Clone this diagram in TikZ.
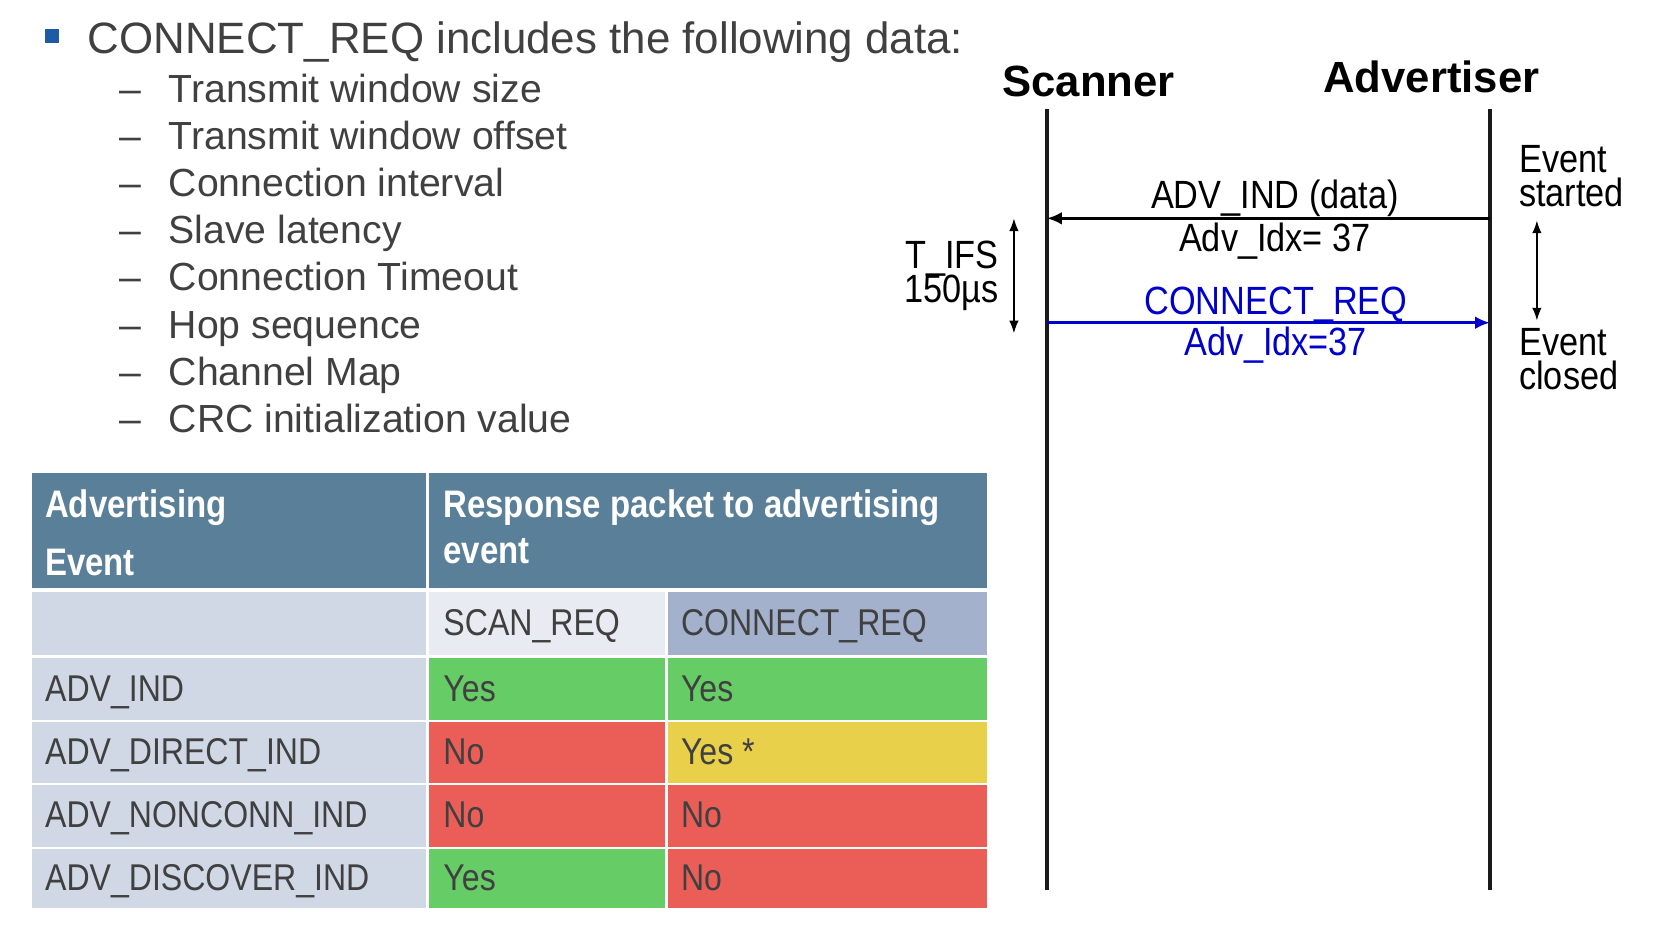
\documentclass[tikz,border=0pt]{standalone}
\usepackage{fontspec}
\setmainfont{Liberation Sans}
\newfontfamily\narrowfont[FakeStretch=0.87]{Liberation Sans}
\newfontfamily\tabfont[FakeStretch=0.86]{Liberation Sans}
\usetikzlibrary{arrows.meta}
\definecolor{txtgray}{HTML}{404040}
\definecolor{hdrblue}{HTML}{5A7F99}
\definecolor{lav}{HTML}{D0D8E6}
\definecolor{lavlight}{HTML}{E8EBF2}
\definecolor{lavdark}{HTML}{A3B1CC}
\definecolor{cgreen}{HTML}{66CC66}
\definecolor{cred}{HTML}{EB5E58}
\definecolor{cyellow}{HTML}{E8D04A}
\definecolor{bulletblue}{HTML}{1F5AA6}
\definecolor{msgblue}{HTML}{0000CC}
\definecolor{lifeline}{HTML}{1A1A1A}
\begin{document}
\begin{tikzpicture}[x=0.5pt,y=-0.5pt,
  txt/.style={anchor=base west, inner sep=0pt, text=txtgray},
  mainitem/.style={txt, font=\fontsize{20.6}{24}\selectfont},
  subitem/.style={txt, font=\fontsize{18.4}{22}\selectfont},
  tab/.style={txt, font=\tabfont\fontsize{17.5}{20}\selectfont},
  hdr/.style={anchor=base west, inner sep=0pt, text=white, font=\tabfont\bfseries\fontsize{18}{21}\selectfont},
  actor/.style={anchor=base, inner sep=0pt, font=\bfseries\fontsize{20.5}{24}\selectfont},
  lbl/.style={inner sep=0pt, font=\narrowfont\fontsize{18.5}{21}\selectfont},
  life/.style={draw=lifeline, line width=1.5pt},
  msg/.style={line width=1.5pt, -{Latex[length=7pt,width=6pt]}},
  span/.style={line width=0.8pt, {Latex[length=6pt,width=4.5pt]}-{Latex[length=6pt,width=4.5pt]}}
]
\useasboundingbox (0,0) rectangle (1568,881);

% ---------- bullet list ----------
\node[fill=bulletblue, inner sep=0pt, minimum size=6.5pt] (bullet) at (48.5,33.5) {};
\node[mainitem] (main) at (82,50) {CONNECT\_REQ includes the following data:};
\foreach \t [count=\i] in {Transmit window size,Transmit window offset,Connection interval,Slave latency,Connection Timeout,Hop sequence,Channel Map,CRC initialization value}{
  \node[subitem] (dash\i) at (112,96+44.3*\i-44.3) {--};
  \node[subitem] (item\i) at (158,96+44.3*\i-44.3) {\t};
}

% ---------- table ----------
\fill[hdrblue] (30,444) rectangle (400,552);
\fill[hdrblue] (403,444) rectangle (927,552);
\fill[lav] (30,556) rectangle (400,615);
\fill[lavlight] (403,556) rectangle (624,615);
\fill[lavdark] (627,556) rectangle (927,615);
\fill[lav] (30,618) rectangle (400,676);
\fill[cgreen] (403,618) rectangle (624,676);
\fill[cgreen] (627,618) rectangle (927,676);
\fill[lav] (30,678) rectangle (400,735);
\fill[cred] (403,678) rectangle (624,735);
\fill[cyellow] (627,678) rectangle (927,735);
\fill[lav] (30,737) rectangle (400,795);
\fill[cred] (403,737) rectangle (624,795);
\fill[cred] (627,737) rectangle (927,795);
\fill[lav] (30,797) rectangle (400,853);
\fill[cgreen] (403,797) rectangle (624,853);
\fill[cred] (627,797) rectangle (927,853);

\node[hdr] (h1a) at (42,486) {Advertising};
\node[hdr] (h1b) at (42,540) {Event};
\node[hdr] (h2a) at (416,486) {Response packet to advertising};
\node[hdr] (h2b) at (416,529) {event};

\node[tab] (scanreq) at (416,597) {SCAN\_REQ};
\node[tab] (connreq) at (639,597) {CONNECT\_REQ};

\node[tab] (r1) at (42,659) {ADV\_IND};
\node[tab] (r1a) at (416,659) {Yes};
\node[tab] (r1b) at (639,659) {Yes};
\node[tab] (r2) at (42,718) {ADV\_DIRECT\_IND};
\node[tab] (r2a) at (416,718) {No};
\node[tab] (r2b) at (639,718) {Yes *};
\node[tab] (r3) at (42,777) {ADV\_NONCONN\_IND};
\node[tab] (r3a) at (416,777) {No};
\node[tab] (r3b) at (639,777) {No};
\node[tab] (r4) at (42,836) {ADV\_DISCOVER\_IND};
\node[tab] (r4a) at (416,836) {Yes};
\node[tab] (r4b) at (639,836) {No};

% ---------- sequence diagram ----------
\node[actor] (scanner) at (1022,91) {Scanner};
\node[actor] (advertiser) at (1344,87) {Advertiser};

\coordinate (sTop) at (983,102);
\coordinate (sBot) at (983,836);
\coordinate (aTop) at (1399,102);
\coordinate (aBot) at (1399,836);
\draw[life] (sTop) -- (sBot);
\draw[life] (aTop) -- (aBot);

\coordinate (advA) at (1399,205);
\coordinate (advS) at (983,205);
\coordinate (conS) at (983,303);
\coordinate (conA) at (1399,303);
\draw[msg, draw=black] (advA) -- (advS);
\draw[msg, draw=msgblue] (conS) -- (conA);

\node[lbl, anchor=base] (advind) at (1197,196) {ADV\_IND (data)};
\node[lbl, anchor=base] (advidx) at (1197,236) {Adv\_Idx= 37};
\node[lbl, anchor=base, text=msgblue] (conreq) at (1198,295) {CONNECT\_REQ};
\node[lbl, anchor=base, text=msgblue] (conidx) at (1198,334) {Adv\_Idx=37};

\coordinate (tifsTop) at (952,205);
\coordinate (tifsBot) at (952,313);
\draw[span] (tifsTop) -- (tifsBot);
\node[lbl, anchor=base east] (tifs) at (938,252) {T\_IFS};
\node[lbl, anchor=base east] (us) at (938,284) {150µs};

\node[lbl, anchor=base west] (ev1a) at (1426,162) {Event};
\node[lbl, anchor=base west] (ev1b) at (1426,194) {started};
\node[lbl, anchor=base west] (ev2a) at (1426,334) {Event};
\node[lbl, anchor=base west] (ev2b) at (1426,366) {closed};
\coordinate (evTop) at (1443,207);
\coordinate (evBot) at (1443,301);
\draw[span] (evTop) -- (evBot);
\end{tikzpicture}
\end{document}
